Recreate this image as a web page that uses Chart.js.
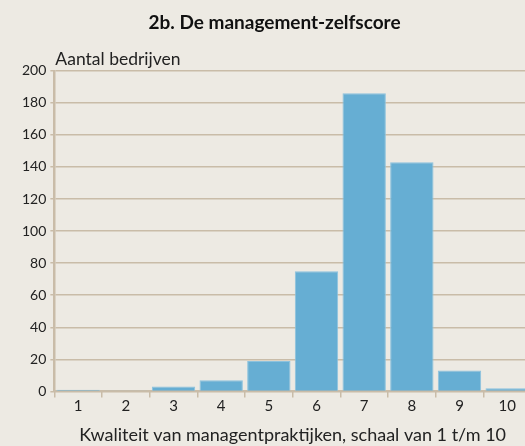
<!DOCTYPE html>
<html>
<head>
<meta charset="utf-8">
<script src="https://cdn.jsdelivr.net/npm/chart.js@4"></script>
<style>
  html, body { margin: 0; padding: 0; background: #edeae3; overflow: hidden; }
  #wrap { width: 531px; height: 446px; position: relative; }
</style>
</head>
<body>
<div id="wrap"><canvas id="myChart"></canvas></div>
<script>
// scores 1 t/m 10 en aantal bedrijven per score
const categories = ['1', '2', '3', '4', '5', '6', '7', '8', '9', '10'];
const companies = [1, 0.3, 3, 7, 19, 75, 186, 143, 13, 2];
const yTicks = [0, 20, 40, 60, 80, 100, 120, 140, 160, 180, 200];

const tan = '#c9bca8';
const fontFam = 'Lato, "Open Sans", sans-serif';

// label "Aantal bedrijven" boven de y-as
const yLabelPlugin = {
    id: 'yLabel',
    afterDraw(chart) {
        const ctx = chart.ctx;
        ctx.save();
        ctx.font = '17.5px ' + fontFam;
        ctx.fillStyle = '#222';
        ctx.textBaseline = 'bottom';
        ctx.fillText('Aantal bedrijven', chart.chartArea.left + 1, chart.chartArea.top - 3);
        ctx.restore();
    }
};

new Chart(document.getElementById('myChart'), {
    type: 'bar',
    data: {
        labels: categories,
        datasets: [{
            label: 'Aantal bedrijven',
            data: companies,
            backgroundColor: '#66aed3',
            borderColor: '#8cc2de',
            borderWidth: 1,
            categoryPercentage: 1,
            barPercentage: 0.91
        }]
    },
    options: {
        responsive: true,
        maintainAspectRatio: false,
        animation: false,
        layout: { padding: { left: 18, right: 0, top: 0, bottom: 0 } },
        plugins: {
            legend: { display: false },
            tooltip: { enabled: false },
            title: {
                display: true,
                text: '2b. De management-zelfscore',
                color: '#111',
                font: { family: fontFam, size: 19, weight: 'bold' },
                padding: { top: 11, bottom: 37 }
            }
        },
        scales: {
            x: {
                grid: {
                    offset: true,
                    drawOnChartArea: false,
                    color: tan,
                    lineWidth: 1.5,
                    tickLength: 6
                },
                border: { color: tan, width: 2 },
                ticks: {
                    color: '#222',
                    font: { family: fontFam, size: 15 },
                    padding: 0
                },
                title: {
                    display: true,
                    text: 'Kwaliteit van managentpraktijken, schaal van 1 t/m 10',
                    color: '#222',
                    font: { family: fontFam, size: 18 },
                    padding: { top: 9, bottom: 0 }
                }
            },
            y: {
                min: 0,
                max: 200,
                afterBuildTicks(axis) {
                    axis.ticks = yTicks.map(v => ({ value: v }));
                },
                grid: {
                    color: tan,
                    lineWidth: 1.5,
                    tickLength: 4
                },
                border: { color: tan, width: 2.5 },
                ticks: {
                    color: '#222',
                    font: { family: fontFam, size: 14 },
                    padding: 4
                }
            }
        }
    },
    plugins: [yLabelPlugin]
});
</script>
</body>
</html>
